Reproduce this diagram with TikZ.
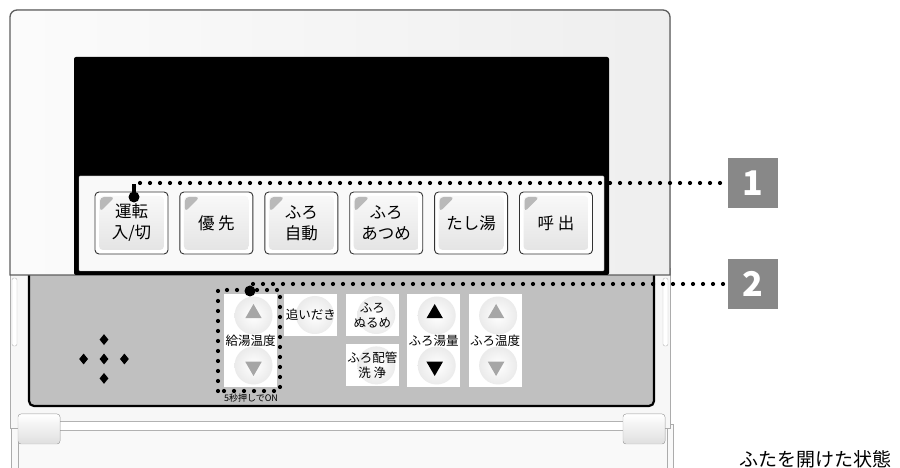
\documentclass[tikz,border=0pt]{standalone}
\usepackage{fontspec}
\setmainfont{Noto Sans CJK JP}
\usetikzlibrary{positioning,shapes.geometric,calc}
\definecolor{bodyline}{HTML}{5E5E5E}
\definecolor{panelgray}{HTML}{C0C0C0}
\definecolor{tagbg}{HTML}{888888}
\definecolor{keyedge}{HTML}{333333}
\definecolor{arrowgray}{HTML}{A6A6A6}
\tikzset{
  topkey/.style={rectangle,rounded corners=4pt,draw=keyedge,line width=0.9pt,fill=white,
    minimum width=73pt,minimum height=62pt,align=center,inner sep=0pt,
    font=\fontsize{16.5}{21}\selectfont,
    path picture={
      \shade[top color=gray!4,bottom color=gray!22]
        ($(path picture bounding box.north west)+(4pt,-4pt)$) rectangle
        ($(path picture bounding box.south east)+(-4pt,4pt)$);
      \fill[gray!55] ($(path picture bounding box.north west)+(5pt,-5pt)$)
        -- ++(15pt,0pt) -- ++(-15pt,-15pt) -- cycle;}},
  lowkey/.style={rectangle,fill=white,minimum width=53pt,align=center,inner sep=0pt,
    font=\fontsize{12.5}{15}\selectfont},
  knob/.style={circle,minimum size=38pt,inner sep=0pt,shading=radial,
    inner color=white,outer color=gray!16},
  upmark/.style={regular polygon,regular polygon sides=3,minimum size=19pt,inner sep=0pt},
  downmark/.style={upmark,shape border rotate=180},
  stud/.style={diamond,fill=black,minimum width=9pt,minimum height=11pt,inner sep=0pt},
  numtag/.style={rectangle,fill=tagbg,text=white,minimum size=50pt,inner sep=0pt,
    font=\bfseries\fontsize{34}{34}\selectfont},
  leader/.style={line width=4.2pt,line cap=round,dash pattern=on 0pt off 10pt},
  pin/.style={circle,fill=black,minimum size=11pt,inner sep=0pt},
}

\begin{document}
\begin{tikzpicture}[x=1pt,y=1pt]
  \useasboundingbox (0,0) rectangle (900,468);
  % lid, hinge and lower body
  \filldraw[draw=gray!65,fill=gray!5] (11,0) rectangle (673,44);
  \draw[gray!65] (18,0) -- (18,40) (667,0) -- (667,40);
  \filldraw[draw=gray!65,fill=gray!6] (10,40) rectangle (670,200);
  \filldraw[draw=gray!55,fill=white,rounded corners=2pt] (12,122) rectangle (17,190);
  \filldraw[draw=gray!55,fill=white,rounded corners=2pt] (663,122) rectangle (668,190);
  \filldraw[fill=panelgray,draw=black,line width=2.2pt,rounded corners=5pt]
    (29,62) rectangle (654,205);
  \filldraw[fill=white,draw=gray!60] (20,38) rectangle (664,47);
  \filldraw[draw=gray!60,top color=white,bottom color=gray!25,rounded corners=3pt]
    (18,24) rectangle (60,54);
  \filldraw[draw=gray!60,top color=white,bottom color=gray!25,rounded corners=3pt]
    (623,24) rectangle (665,54);
  % upper body and display
  \filldraw[draw=bodyline,line width=1.3pt,left color=gray!3,right color=gray!13]
    (10,193) -- (10,451) arc[start angle=180,end angle=90,radius=7pt]
    -- (663,458) arc[start angle=90,end angle=0,radius=7pt] -- (670,193) -- cycle;
  \fill[black,rounded corners=2pt] (74,193) rectangle (609,411);
  \filldraw[fill=gray!5,draw=gray!60,rounded corners=1pt] (79,197) rectangle (604,292);
  % front keys
  \node[topkey] (unten) at (131.5,245) {運転\\入/切};
  \node[topkey,right=11pt of unten] (yusen) {優 先};
  \node[topkey,right=11pt of yusen] (jido) {ふろ\\自動};
  \node[topkey,right=11pt of jido] (atsume) {ふろ\\あつめ};
  \node[topkey,right=11pt of atsume] (tashiyu) {たし湯};
  \node[topkey,right=11pt of tashiyu] (yobidashi) {呼 出};
  % keys under the lid
  \node[lowkey,minimum height=93pt] (kyuto) at (250.5,127.5) {};
  \node[lowkey,minimum height=42pt,right=7pt of kyuto.north east,anchor=north west] (oidaki) {};
  \node[lowkey,minimum height=42pt,right=8pt of oidaki] (nurume) {};
  \node[lowkey,minimum height=42pt,below=8pt of nurume] (senjo) {};
  \node[lowkey,minimum height=93pt,right=8pt of nurume.north east,anchor=north west] (yuryo) {};
  \node[lowkey,minimum height=93pt,right=8pt of yuryo] (ondo) {};
  \foreach \k in {kyuto,yuryo,ondo}{
    \node[knob] (\k-up) at ($(\k.center)+(3pt,25pt)$) {};
    \node[knob] (\k-dn) at ($(\k.center)+(3pt,-25pt)$) {};
  }
  \foreach \k in {oidaki,nurume,senjo}
    \node[knob] (\k-knob) at ($(\k.center)+(4pt,0pt)$) {};
  \node[upmark,fill=arrowgray] (kyutoa) at ($(kyuto-up)+(0pt,2pt)$) {};
  \node[downmark,fill=arrowgray] (kyutob) at ($(kyuto-dn)+(0pt,-1pt)$) {};
  \node[upmark,fill=black] (yuryoa) at ($(yuryo-up)+(-2pt,2pt)$) {};
  \node[downmark,fill=black] (yuryob) at ($(yuryo-dn)+(-2pt,-1pt)$) {};
  \node[upmark,fill=arrowgray] (ondoa) at ($(ondo-up)+(-2pt,2pt)$) {};
  \node[downmark,fill=arrowgray] (ondob) at ($(ondo-dn)+(-2pt,-1pt)$) {};
  \node[font=\fontsize{12.5}{15}\selectfont] at (kyuto) {給湯温度};
  \node[font=\fontsize{12.5}{15}\selectfont] at (oidaki) {追いだき};
  \node[font=\fontsize{12.5}{15}\selectfont,align=center] at (nurume) {ふろ\\ぬるめ};
  \node[font=\fontsize{12.5}{15}\selectfont,align=center] at (senjo) {ふろ配管\\洗 浄};
  \node[font=\fontsize{12.5}{15}\selectfont] at (yuryo) {ふろ湯量};
  \node[font=\fontsize{12.5}{15}\selectfont] at (ondo) {ふろ温度};
  \node[font=\fontsize{9}{10}\selectfont] (hold) at (251,70) {5秒押しでON};
  % direction pad
  \node[stud] (padc) at (104,109) {};
  \node[stud,above=8pt of padc] (padn) {};
  \node[stud,below=8pt of padc] (pads) {};
  \node[stud,left=11pt of padc] (padw) {};
  \node[stud,right=11pt of padc] (pade) {};
  % callouts
  \node[numtag] (tag1) at (753,285) {1};
  \node[numtag] (tag2) at (753,184) {2};
  \node[pin] (pin1) at (134,271) {};
  \node[pin] (pin2) at (250,177) {};
  \draw[line width=4pt] (pin1.center) -- ++(0,13pt);
  \draw[leader] (pin1.center) |- (tag1.west);
  \draw[leader] (pin2.center) |- (tag2.west);
  \draw[leader] (218,77) rectangle (280,178);
  \node[font=\fontsize{19}{19}\selectfont,anchor=base west] (caption) at (736,1) {ふたを開けた状態};
\end{tikzpicture}
\end{document}
